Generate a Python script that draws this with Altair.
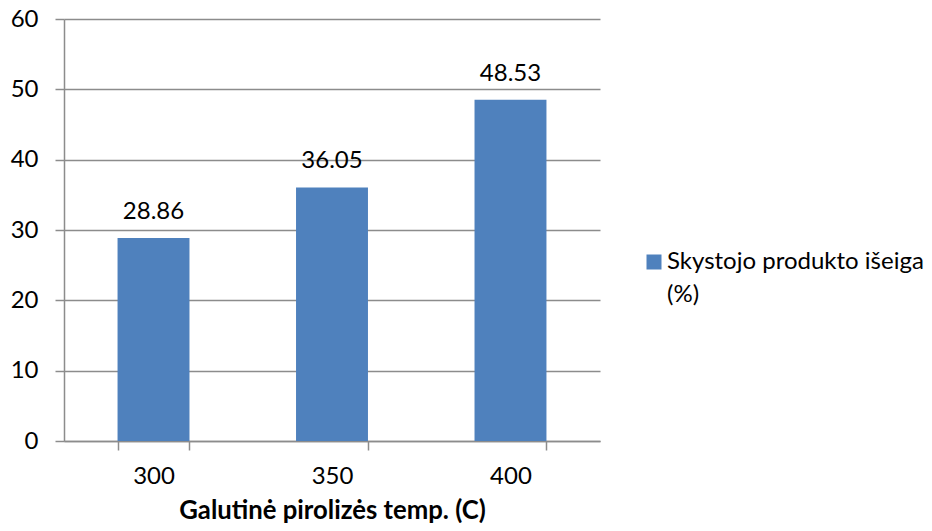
import altair as alt
import pandas as pd

categories = ["300", "350", "400"]
values = [28.86, 36.05, 48.53]
series = "Skystojo produkto išeiga|(%)"

df = pd.DataFrame({"temp": categories, "value": values, "series": [series] * 3})
df["label"] = df["value"].map(lambda v: f"{v:.2f}")

FONT = "Lato"
GRID = "#8c8c8c"
FS = 24

base = alt.Chart(df)

bars = base.mark_bar(color="#4F81BD").encode(
    x=alt.X("temp:N", sort=categories,
            scale=alt.Scale(paddingInner=0.597, paddingOuter=0.3),
            axis=alt.Axis(title="Galutinė pirolizės temp. (C)", labelAngle=0,
                          labelFontSize=FS, labelFont=FONT, labelColor="#000000",
                          titleFontSize=25.7, titleFont=FONT, titleFontWeight="bold",
                          titleColor="#000000", titlePadding=10,
                          domainColor=GRID, tickColor=GRID, tickSize=9,
                          tickBand="extent", labelPadding=14, grid=False)),
    y=alt.Y("value:Q", scale=alt.Scale(domain=[0, 60]),
            axis=alt.Axis(title=None, values=[0, 10, 20, 30, 40, 50, 60],
                          labelFontSize=FS, labelFont=FONT, labelColor="#000000",
                          domainColor=GRID, tickColor=GRID, tickSize=9,
                          gridColor=GRID, gridWidth=1.5, labelPadding=17)),
    color=alt.Color("series:N", scale=alt.Scale(range=["#4F81BD"]),
                    legend=alt.Legend(title=None, orient="none", legendX=578, legendY=231,
                                      symbolType="square", symbolSize=225,
                                      symbolStrokeWidth=0, labelFontSize=24,
                                      labelFont=FONT, labelColor="#000000",
                                      labelLimit=400, labelOffset=1,
                                      labelExpr="split(datum.label, '|')")),
)

text = base.mark_text(dy=-14, baseline="bottom", fontSize=FS, font=FONT, color="#000000").encode(
    x=alt.X("temp:N", sort=categories),
    y="value:Q",
    text="label:N",
)

chart = (bars + text).properties(
    width=536, height=422,
    autosize=alt.AutoSizeParams(type="none"),
    padding={"left": 56, "top": 11, "right": 324, "bottom": 82},
).configure(
    style={"guide-label": {"lineHeight": 33}}
).configure_view(stroke=None).configure_axis(
    domainWidth=1.5, tickWidth=1.5
)

chart.save("out.html", embed_options={"renderer": "svg", "actions": False})
